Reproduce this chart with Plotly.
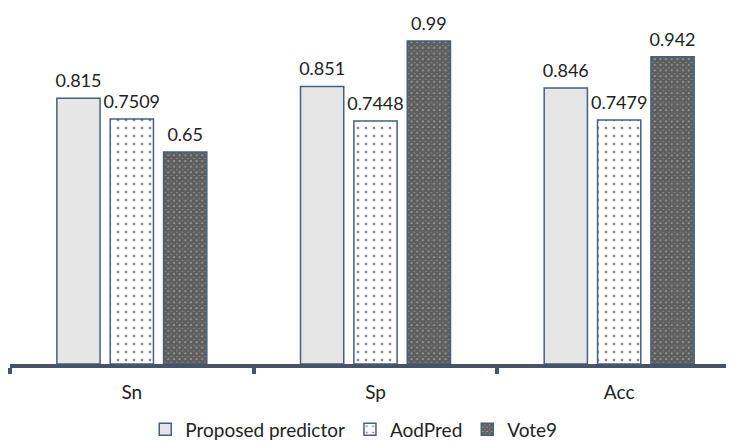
import plotly.graph_objects as go

metrics = ["Sn", "Sp", "Acc"]
proposed = [0.815, 0.851, 0.846]
aodpred = [0.7509, 0.7448, 0.7479]
vote9 = [0.65, 0.99, 0.942]

edge = "#46607c"
font_name = "Lato, 'Open Sans', sans-serif"

series = [
    ("Proposed predictor", proposed,
     dict(color="#e6e6e6", line=dict(color=edge, width=1.5))),
    ("AodPred", aodpred,
     dict(color="white", line=dict(color=edge, width=1.5),
          pattern=dict(shape=".", size=8, solidity=0.08,
                       fgcolor="black", bgcolor="white"))),
    ("Vote9", vote9,
     dict(color="#111111", line=dict(color=edge, width=1.5),
          pattern=dict(shape="x", size=4, solidity=0.9,
                       fgcolor="black", bgcolor="#bdbdbd"))),
]

fig = go.Figure()
for i, (name, vals, marker) in enumerate(series):
    fig.add_trace(go.Bar(name=name, x=metrics, y=vals, marker=marker,
                         offsetgroup=str(i)))
# value labels as text-only scatter, aligned with the bar groups
for i, (name, vals, marker) in enumerate(series):
    fig.add_trace(go.Scatter(
        x=metrics, y=vals, mode="markers+text", text=[str(v) for v in vals],
        textposition="top center", offsetgroup=str(i), showlegend=False,
        marker=dict(size=9, opacity=0), hoverinfo="skip", cliponaxis=False,
        textfont=dict(size=18, color="#222"),
    ))

fig.update_layout(
    width=734, height=441,
    barmode="group", bargap=0.343, bargroupgap=0.19,
    scattermode="group", scattergap=0.343,
    plot_bgcolor="white", paper_bgcolor="white",
    font=dict(family=font_name, size=19, color="#222"),
    margin=dict(l=2, r=1, t=20, b=67),
    legend=dict(orientation="h", x=0.185, xanchor="left", y=-0.195, yanchor="middle",
                font=dict(size=19), traceorder="normal"),
    xaxis=dict(showline=True, linecolor="#44546a", linewidth=3.5,
               ticks="outside", tickson="boundaries", ticklen=6, tickwidth=3.5,
               tickcolor="#44546a", ticklabelstandoff=8, showgrid=False,
               automargin=False),
    yaxis=dict(range=[0, 1.03], visible=False, showgrid=False, automargin=False),
)

fig.write_html("out.html")
